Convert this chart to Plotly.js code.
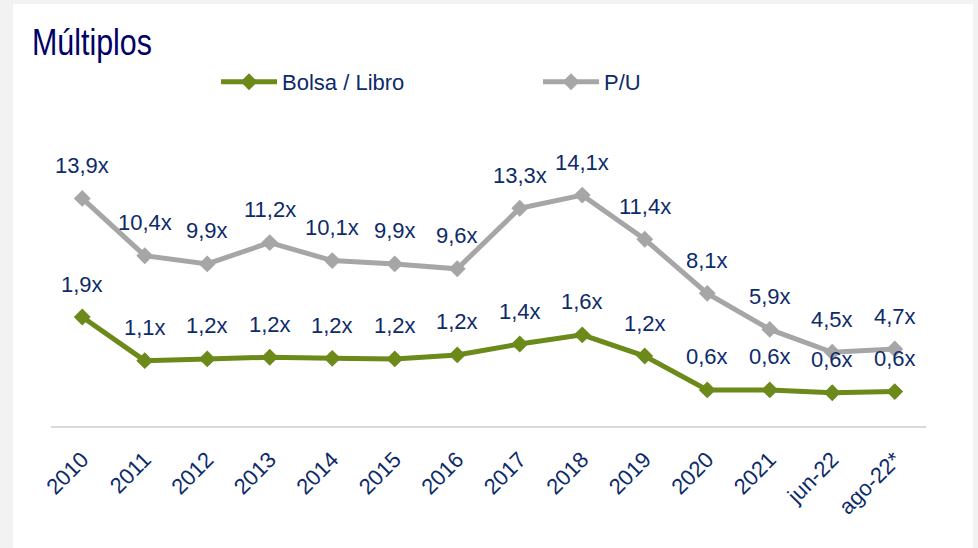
<!DOCTYPE html>
<html>
<head>
<meta charset="utf-8">
<script src="https://cdn.plot.ly/plotly-3.0.1.min.js"></script>
<style>
  html, body { margin: 0; padding: 0; background: #f2f2f2; width: 978px; height: 548px; overflow: hidden; }
  #chart { position: absolute; left: 13px; top: 4px; width: 960px; height: 544px; background: #ffffff; }
</style>
</head>
<body>
<div id="chart"></div>
<script>
const categories = ["2010","2011","2012","2013","2014","2015","2016","2017","2018","2019","2020","2021","jun-22","ago-22*"];
const bolsaLibro = [1.9, 1.14, 1.17, 1.2, 1.18, 1.17, 1.24, 1.43, 1.59, 1.22, 0.63, 0.63, 0.58, 0.6];
const pu = [13.9, 10.4, 9.9, 11.2, 10.1, 9.9, 9.6, 13.3, 14.1, 11.4, 8.1, 5.9, 4.5, 4.7];

const xIdx = categories.map((_, i) => i);
const fmt = v => v.toFixed(1).replace('.', ',') + 'x';
const labelColor = '#0d2b6a';
const fontFam = '"Liberation Sans", Arial, sans-serif';

const traces = [
  {
    x: xIdx, y: bolsaLibro, name: 'Bolsa / Libro', yaxis: 'y2', legend: 'legend',
    type: 'scatter', mode: 'lines+markers',
    line: { color: '#6b8a1a', width: 5 },
    marker: { symbol: 'diamond', size: 13, color: '#6b8a1a' },
    hoverinfo: 'skip'
  },
  {
    x: xIdx, y: pu, name: 'P/U', yaxis: 'y', legend: 'legend2',
    type: 'scatter', mode: 'lines+markers',
    line: { color: '#a6a6a6', width: 5 },
    marker: { symbol: 'diamond', size: 13, color: '#a6a6a6' },
    hoverinfo: 'skip'
  }
];

const annotations = [];
pu.forEach((v, i) => annotations.push({
  x: xIdx[i], y: v, xref: 'x', yref: 'y', text: fmt(v), showarrow: false,
  yshift: 33, font: { family: fontFam, size: 22, color: labelColor }
}));
bolsaLibro.forEach((v, i) => annotations.push({
  x: xIdx[i], y: v, xref: 'x', yref: 'y2', text: fmt(v), showarrow: false,
  yshift: 33, font: { family: fontFam, size: 22, color: labelColor }
}));

const legendCommon = {
  orientation: 'h', xanchor: 'left', y: 1.313, yanchor: 'middle',
  font: { family: fontFam, size: 22, color: labelColor },
  itemwidth: 56, bgcolor: 'rgba(0,0,0,0)'
};

const layout = {
  width: 960, height: 544,
  margin: { l: 38, r: 47, t: 160, b: 122 },
  paper_bgcolor: '#ffffff', plot_bgcolor: '#ffffff',
  title: {
    text: 'Múltiplos', xref: 'container', yref: 'container',
    x: 0.0198, xanchor: 'left', y: 0.930, yanchor: 'middle',
    font: { family: fontFam, size: 36, color: '#000066' }
  },
  showlegend: true,
  legend: Object.assign({}, legendCommon, { x: 0.1886 }),
  legend2: Object.assign({}, legendCommon, { x: 0.5566 }),
  xaxis: {
    type: 'linear', range: [-0.5, categories.length - 0.5],
    tickvals: xIdx, ticktext: categories,
    showgrid: false, zeroline: false,
    showline: true, linecolor: '#d9d9d9', linewidth: 2,
    tickangle: -45, ticks: '', ticklabelstandoff: 10,
    tickfont: { family: fontFam, size: 22, color: labelColor }
  },
  yaxis: {
    range: [0, 16], showgrid: false, zeroline: false, showline: false,
    showticklabels: false, ticks: ''
  },
  yaxis2: {
    range: [0, 4.57], overlaying: 'y', side: 'right', showgrid: false,
    zeroline: false, showline: false, showticklabels: false, ticks: ''
  },
  annotations: annotations
};

Plotly.newPlot('chart', traces, layout, { displayModeBar: false, staticPlot: true }).then(gd => {
  const t = gd.querySelector('.gtitle');
  if (t) {
    t.setAttribute('textLength', '120');
    t.setAttribute('lengthAdjust', 'spacingAndGlyphs');
  }
});
</script>
</body>
</html>
